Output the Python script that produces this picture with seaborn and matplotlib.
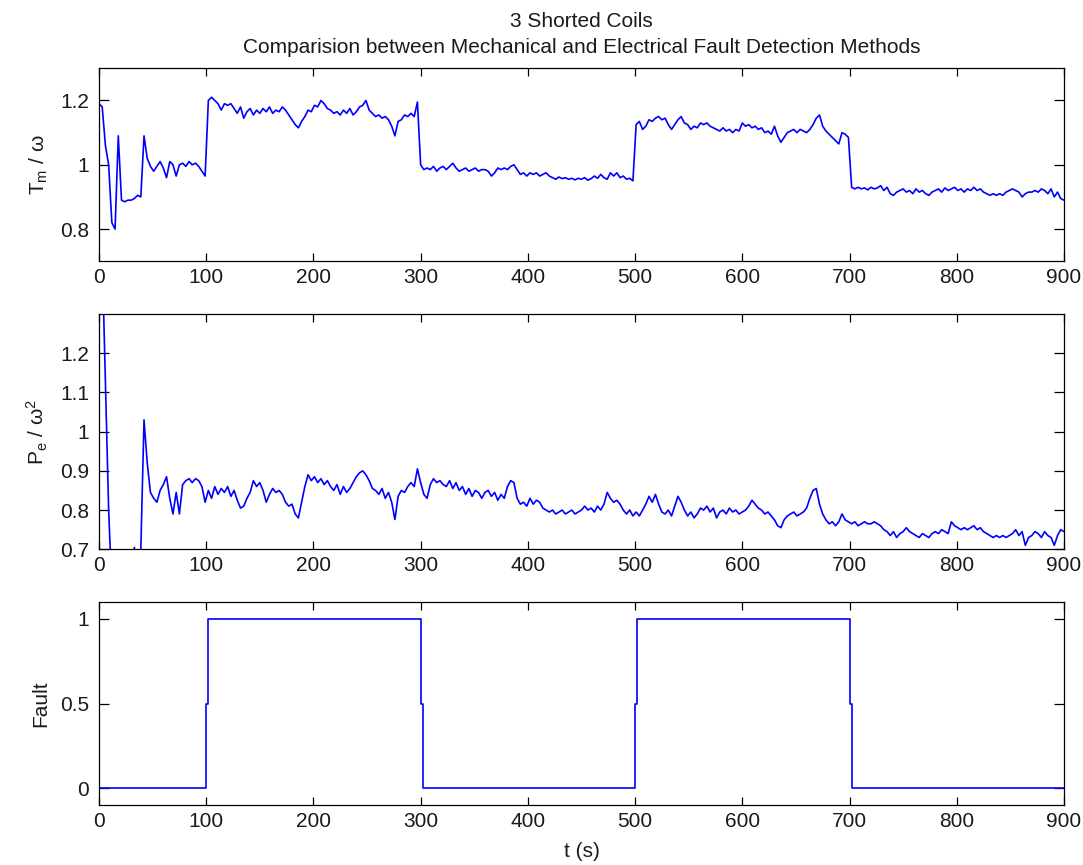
import numpy as np
import pandas as pd
import matplotlib
matplotlib.use('Agg')
import matplotlib.pyplot as plt
import seaborn as sns
from matplotlib.ticker import FormatStrFormatter, MultipleLocator

sns.set_theme(style='ticks')
plt.rcParams['font.family'] = ['Liberation Sans', 'DejaVu Sans']
plt.rcParams['mathtext.fontset'] = 'custom'
plt.rcParams['mathtext.rm'] = 'Liberation Sans'
plt.rcParams['mathtext.it'] = 'Liberation Sans'
plt.rcParams.update({'font.size': 15, 'text.color': '#1a1a1a',
                     'axes.labelcolor': '#1a1a1a'})

# sample times (s), 3 s step
t = np.arange(0, 901, 3)

# mechanical: Tm / w
tm = [
    1.19, 1.18, 1.06, 1.0, 0.82, 0.80, 1.09, 0.89, 0.885, 0.89,
    0.89, 0.895, 0.905, 0.90, 1.09, 1.02, 0.995, 0.98, 0.995, 1.01,
    0.99, 0.96, 1.01, 1.0, 0.965, 1.0, 1.005, 0.995, 1.01, 1.0,
    1.005, 0.995, 0.98, 0.965, 1.2, 1.21, 1.2, 1.19, 1.17, 1.19,
    1.185, 1.19, 1.175, 1.16, 1.18, 1.145, 1.165, 1.175, 1.155, 1.17,
    1.16, 1.175, 1.165, 1.18, 1.16, 1.17, 1.165, 1.18, 1.17, 1.155,
    1.14, 1.125, 1.115, 1.135, 1.15, 1.17, 1.165, 1.185, 1.18, 1.2,
    1.19, 1.175, 1.17, 1.16, 1.165, 1.155, 1.17, 1.16, 1.175, 1.155,
    1.165, 1.18, 1.185, 1.2, 1.17, 1.16, 1.15, 1.155, 1.145, 1.15,
    1.14, 1.12, 1.09, 1.135, 1.14, 1.155, 1.15, 1.16, 1.15, 1.195,
    1.0, 0.985, 0.99, 0.985, 0.995, 0.98, 0.99, 0.995, 0.985, 0.995,
    1.005, 0.99, 0.98, 0.985, 0.99, 0.98, 0.985, 0.99, 0.98, 0.985,
    0.985, 0.98, 0.965, 0.975, 0.99, 0.985, 0.99, 0.985, 0.995, 1.0,
    0.985, 0.97, 0.975, 0.965, 0.975, 0.97, 0.975, 0.965, 0.97, 0.975,
    0.965, 0.96, 0.955, 0.962, 0.957, 0.96, 0.955, 0.958, 0.953, 0.958,
    0.955, 0.96, 0.952, 0.957, 0.965, 0.958, 0.97, 0.96, 0.955, 0.975,
    0.965, 0.975, 0.96, 0.965, 0.955, 0.958, 0.95, 1.125, 1.135, 1.11,
    1.12, 1.14, 1.135, 1.145, 1.15, 1.14, 1.145, 1.125, 1.11, 1.125,
    1.14, 1.15, 1.13, 1.125, 1.11, 1.12, 1.115, 1.13, 1.125, 1.13,
    1.12, 1.115, 1.11, 1.105, 1.115, 1.105, 1.11, 1.1, 1.11, 1.105,
    1.13, 1.12, 1.125, 1.115, 1.12, 1.11, 1.115, 1.1, 1.105, 1.095,
    1.12, 1.09, 1.07, 1.085, 1.1, 1.105, 1.11, 1.1, 1.11, 1.105,
    1.1, 1.11, 1.125, 1.145, 1.155, 1.12, 1.105, 1.095, 1.085, 1.075,
    1.065, 1.1, 1.095, 1.085, 0.93, 0.925, 0.93, 0.925, 0.928, 0.922,
    0.93, 0.925, 0.928, 0.935, 0.92, 0.93, 0.91, 0.905, 0.915, 0.92,
    0.925, 0.915, 0.92, 0.91, 0.925, 0.915, 0.92, 0.91, 0.905, 0.915,
    0.92, 0.925, 0.915, 0.928, 0.92, 0.925, 0.93, 0.92, 0.925, 0.915,
    0.925, 0.92, 0.93, 0.92, 0.925, 0.915, 0.91, 0.905, 0.91, 0.905,
    0.91, 0.905, 0.915, 0.92, 0.925, 0.92, 0.915, 0.90, 0.91, 0.915,
    0.915, 0.92, 0.915, 0.925, 0.92, 0.91, 0.925, 0.90, 0.915, 0.895,
    0.89,
]

# electrical: Pe / w^2 (first samples are off the axis range)
pe = [
    1.5, 1.45, 1.12, 0.8, 0.6, 0.55, 0.55, 0.55, 0.55, 0.55,
    0.6, 0.705, 0.6, 0.698, 1.03, 0.92, 0.845, 0.83, 0.82, 0.85,
    0.865, 0.885, 0.83, 0.79, 0.845, 0.79, 0.865, 0.875, 0.88, 0.87,
    0.88, 0.875, 0.86, 0.82, 0.85, 0.83, 0.86, 0.84, 0.855, 0.845,
    0.86, 0.835, 0.85, 0.825, 0.805, 0.81, 0.83, 0.845, 0.875, 0.86,
    0.87, 0.85, 0.82, 0.84, 0.855, 0.845, 0.85, 0.84, 0.82, 0.81,
    0.815, 0.79, 0.78, 0.82, 0.86, 0.89, 0.875, 0.885, 0.87, 0.88,
    0.865, 0.875, 0.86, 0.85, 0.865, 0.84, 0.86, 0.845, 0.855, 0.87,
    0.885, 0.895, 0.9, 0.89, 0.875, 0.855, 0.85, 0.84, 0.855, 0.83,
    0.845, 0.82, 0.776, 0.835, 0.85, 0.845, 0.86, 0.87, 0.86, 0.905,
    0.87, 0.84, 0.83, 0.865, 0.88, 0.87, 0.875, 0.865, 0.86, 0.875,
    0.855, 0.87, 0.85, 0.86, 0.84, 0.855, 0.835, 0.85, 0.845, 0.83,
    0.845, 0.85, 0.835, 0.845, 0.825, 0.84, 0.83, 0.86, 0.875, 0.87,
    0.83, 0.815, 0.82, 0.81, 0.83, 0.815, 0.825, 0.82, 0.805, 0.8,
    0.795, 0.8, 0.79, 0.795, 0.8, 0.79, 0.795, 0.8, 0.79, 0.795,
    0.8, 0.81, 0.8, 0.805, 0.795, 0.81, 0.8, 0.815, 0.845, 0.83,
    0.82, 0.825, 0.815, 0.8, 0.79, 0.8, 0.785, 0.795, 0.785, 0.8,
    0.815, 0.835, 0.82, 0.84, 0.815, 0.795, 0.79, 0.8, 0.785, 0.81,
    0.835, 0.82, 0.8, 0.785, 0.795, 0.78, 0.79, 0.805, 0.8, 0.81,
    0.795, 0.805, 0.78, 0.795, 0.8, 0.79, 0.805, 0.795, 0.8, 0.79,
    0.795, 0.8, 0.81, 0.825, 0.815, 0.805, 0.8, 0.79, 0.795, 0.785,
    0.775, 0.76, 0.755, 0.775, 0.785, 0.79, 0.795, 0.785, 0.79, 0.795,
    0.805, 0.83, 0.85, 0.855, 0.815, 0.79, 0.775, 0.765, 0.77, 0.76,
    0.77, 0.79, 0.775, 0.77, 0.765, 0.77, 0.76, 0.765, 0.77, 0.765,
    0.765, 0.77, 0.765, 0.76, 0.75, 0.745, 0.735, 0.745, 0.73, 0.74,
    0.745, 0.755, 0.745, 0.74, 0.735, 0.73, 0.74, 0.735, 0.73, 0.74,
    0.745, 0.74, 0.75, 0.745, 0.74, 0.77, 0.76, 0.755, 0.75, 0.755,
    0.75, 0.755, 0.76, 0.75, 0.755, 0.745, 0.74, 0.735, 0.73, 0.735,
    0.73, 0.735, 0.73, 0.735, 0.74, 0.75, 0.735, 0.745, 0.71, 0.73,
    0.735, 0.745, 0.74, 0.73, 0.745, 0.735, 0.73, 0.71, 0.735, 0.75,
    0.745,
]

# fault flag
fault_t = [0, 100, 100, 102, 102, 300, 300, 302, 302, 500, 500, 502, 502, 700, 700, 702, 702, 900]
fault_v = [0, 0, 0.5, 0.5, 1, 1, 0.5, 0.5, 0, 0, 0.5, 0.5, 1, 1, 0.5, 0.5, 0, 0]

df_tm = pd.DataFrame({'t': t, 'v': tm})
df_pe = pd.DataFrame({'t': t, 'v': pe})
df_f = pd.DataFrame({'t': fault_t, 'v': fault_v})

fig = plt.figure(figsize=(10.83, 8.65), dpi=100)
ax1 = fig.add_axes([0.0914, 0.698, 0.891, 0.223])
ax2 = fig.add_axes([0.0914, 0.365, 0.891, 0.272])
ax3 = fig.add_axes([0.0914, 0.069, 0.891, 0.235])

blue = '#0000ff'
for ax, d in [(ax1, df_tm), (ax2, df_pe), (ax3, df_f)]:
    sns.lineplot(data=d, x='t', y='v', ax=ax, color=blue, lw=1.2,
                 estimator=None, sort=False)
    ax.set_xlim(0, 900)
    ax.xaxis.set_major_locator(MultipleLocator(100))
    ax.set_xlabel('')
    ax.tick_params(direction='in', top=True, right=True, labelsize=15,
                   colors='black', labelcolor='#1a1a1a', width=0.9)
    ax.tick_params(axis='x', length=6, pad=5)
    ax.tick_params(axis='y', length=7, pad=7)
    for s in ax.spines.values():
        s.set_linewidth(0.9)
        s.set_color('black')
    ax.yaxis.set_major_formatter(FormatStrFormatter('%g'))

ax1.set_ylim(0.7, 1.3)
ax1.set_yticks([0.8, 1.0, 1.2])
ax1.set_ylabel(r'T$_{\rm m}$ / ω', fontsize=15)

ax2.set_ylim(0.7, 1.3)
ax2.set_yticks([0.7, 0.8, 0.9, 1.0, 1.1, 1.2])
ax2.set_ylabel(r'P$_{\rm e}$ / ω$^{2}$', fontsize=15)

ax3.set_ylim(-0.1, 1.1)
ax3.set_yticks([0, 0.5, 1])
ax3.set_ylabel('Fault', fontsize=15)
ax3.set_xlabel('t (s)', fontsize=15, labelpad=8)

for ax in (ax1, ax2, ax3):
    ax.yaxis.set_label_coords(-0.051, 0.5)

ax1.set_title('3 Shorted Coils\nComparision between Mechanical and Electrical Fault Detection Methods',
              fontsize=15, pad=11, linespacing=1.5)

fig.savefig('out.png', dpi=100, facecolor='white')
